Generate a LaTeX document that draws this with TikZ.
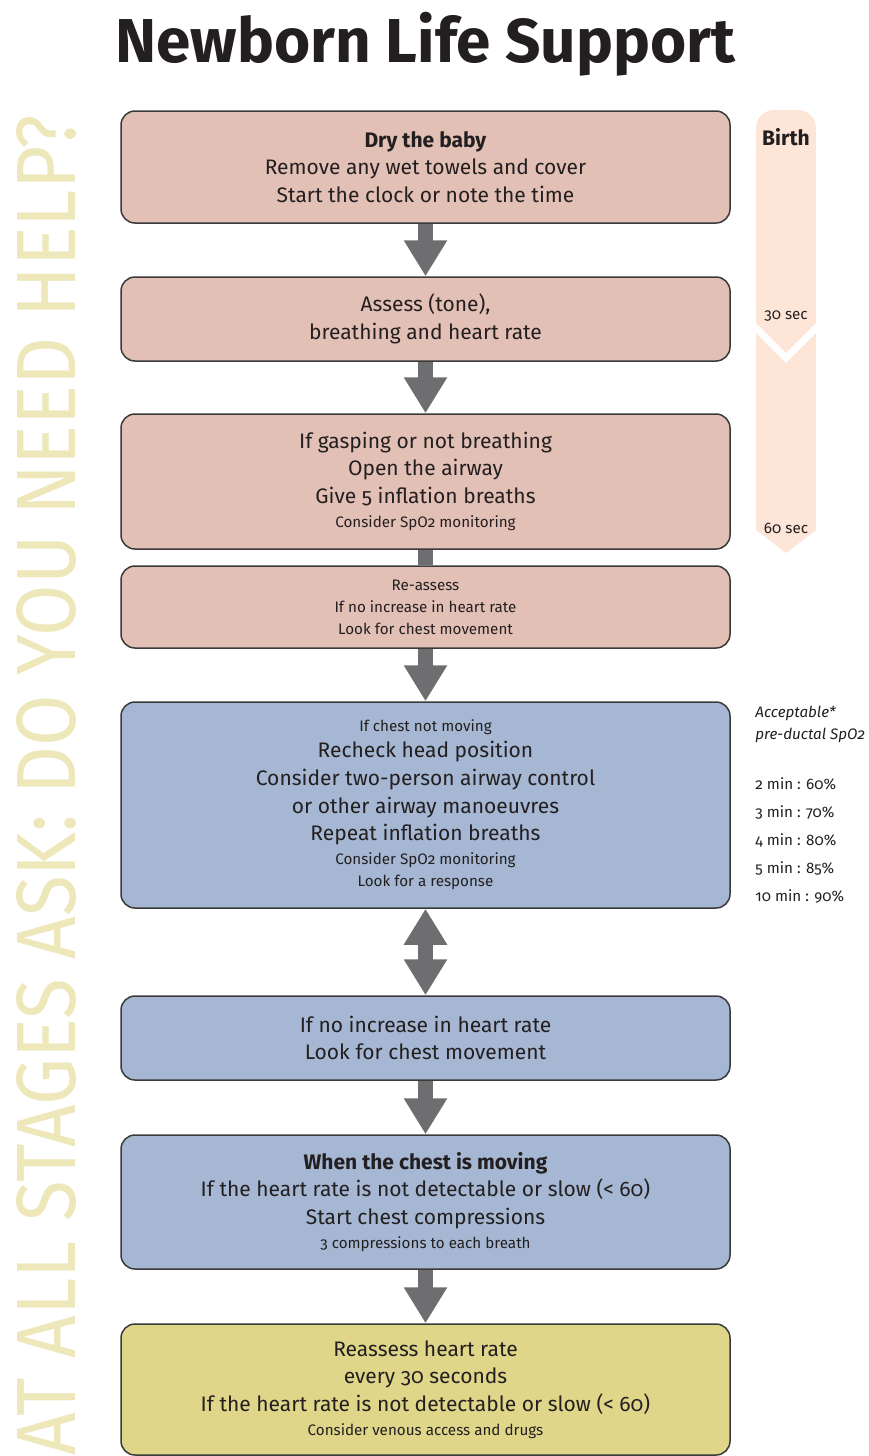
\documentclass[tikz,border=0pt]{standalone}
\usepackage{graphicx}
\usepackage{fontspec}
\setmainfont{Fira Sans}[Numbers=OldStyle]
\usetikzlibrary{arrows.meta,calc}
\definecolor{nlspink}{HTML}{E3C0B5}
\definecolor{nlsblue}{HTML}{A5B7D2}
\definecolor{nlsyellow}{HTML}{E0D68A}
\definecolor{nlsbar}{HTML}{FDE5D8}
\definecolor{nlshelp}{HTML}{EDE7B9}
\definecolor{nlsgray}{HTML}{6E6E70}
\definecolor{nlsline}{HTML}{3A3A3A}
\definecolor{nlsink}{HTML}{231F20}
\newcommand{\sml}{\fontsize{7.6}{11}\selectfont}

\begin{document}
\begin{tikzpicture}[x=0.5pt,y=-0.5pt,
    stage/.style={draw=nlsline,line width=0.75pt,rounded corners=7pt,minimum width=304.5pt,align=center,font=\fontsize{10.5}{13.8}\selectfont,text=nlsink,inner sep=0pt},
    down/.style={draw=nlsgray,line width=7.5pt,-{Triangle[width=20.5pt,length=18pt]}},
    both/.style={draw=nlsgray,line width=7.5pt,{Triangle[width=20.5pt,length=18pt]}-{Triangle[width=20.5pt,length=18pt]}},
    tick/.style={font=\sml,text=nlsink}
]
\useasboundingbox (0,0) rectangle (868,1456);
% title and side text
\node[font=\fontsize{31}{36}\selectfont\bfseries,text=nlsink,anchor=base] (title) at (425.5,62) {Newborn Life Support};
\node[rotate=90,inner sep=0pt,text=nlshelp] (help) at (46.5,785.5) {\resizebox{670pt}{29.5pt}{AT ALL STAGES ASK: DO YOU NEED HELP?}};
% time bar
\fill[nlsbar] (786,553) -- (756,530) [rounded corners=9pt] -- (756,110) -- (816,110) [sharp corners] -- (816,530) -- cycle;
\draw[white,line width=3.5pt] (746,318) -- (786,358) -- (826,318);
\node[font=\fontsize{10.5}{13}\selectfont\bfseries,text=nlsink] (birth) at (786,137) {Birth};
\node[tick] (sec30) at (786,316) {30 sec};
\node[tick] (sec60) at (786,528) {60 sec};
% stages
\node[stage,fill=nlspink,minimum height=56pt] (dry) at (425.5,167) {\textbf{Dry the baby}\\Remove any wet towels and cover\\Start the clock or note the time};
\node[stage,fill=nlspink,minimum height=42pt] (assess) at (425.5,319) {Assess (tone),\\breathing and heart rate};
\node[stage,fill=nlspink,minimum height=67.5pt] (inflate) at (425.5,481.5) {If gasping or not breathing\\Open the airway\\Give 5 inflation breaths\\[-1.5pt]{\sml Consider SpO2 monitoring}};
\node[stage,fill=nlspink,minimum height=41pt,font=\sml] (reassess) at (425.5,607) {Re-assess\\If no increase in heart rate\\Look for chest movement};
\node[stage,fill=nlsblue,minimum height=103pt] (chest) at (425.5,805) {{\sml If chest not moving}\\[-0.8pt]Recheck head position\\Consider two-person airway control\\or other airway manoeuvres\\Repeat inflation breaths\\[-1.8pt]{\sml Consider SpO2 monitoring}\\[-2.8pt]{\sml Look for a response}};
\node[stage,fill=nlsblue,minimum height=42pt] (noincr) at (425.5,1038) {If no increase in heart rate\\Look for chest movement};
\node[stage,fill=nlsblue,minimum height=67pt] (compress) at (425.5,1202) {\textbf{When the chest is moving}\\If the heart rate is not detectable or slow (< 60)\\Start chest compressions\\[-1.8pt]{\sml 3 compressions to each breath}};
\node[stage,fill=nlsyellow,minimum height=65.5pt] (drugs) at (425.5,1389.5) {Reassess heart rate\\every 30 seconds\\If the heart rate is not detectable or slow (< 60)\\[-1.8pt]{\sml Consider venous access and drugs}};
% arrows
\draw[down] (dry) -- (assess);
\draw[down] (assess) -- (inflate);
\draw[draw=nlsgray,line width=7.5pt] (inflate) -- (reassess);
\draw[down] (reassess) -- (chest);
\draw[both] (chest) -- (noincr);
\draw[down] (noincr) -- (compress);
\draw[down] (compress) -- (drugs);
% saturation targets
\node[font=\sml\itshape,text=nlsink,align=left,anchor=west,inner sep=0pt] (target) at (755,724.5) {Acceptable*\\pre-ductal SpO2};
\node[font=\fontsize{7.6}{14}\selectfont,text=nlsink,align=left,anchor=west,inner sep=0pt] (minutes) at (755,840) {2 min : 60\%\\3 min : 70\%\\4 min : 80\%\\5 min : 85\%\\10 min : 90\%};
\end{tikzpicture}
\end{document}
